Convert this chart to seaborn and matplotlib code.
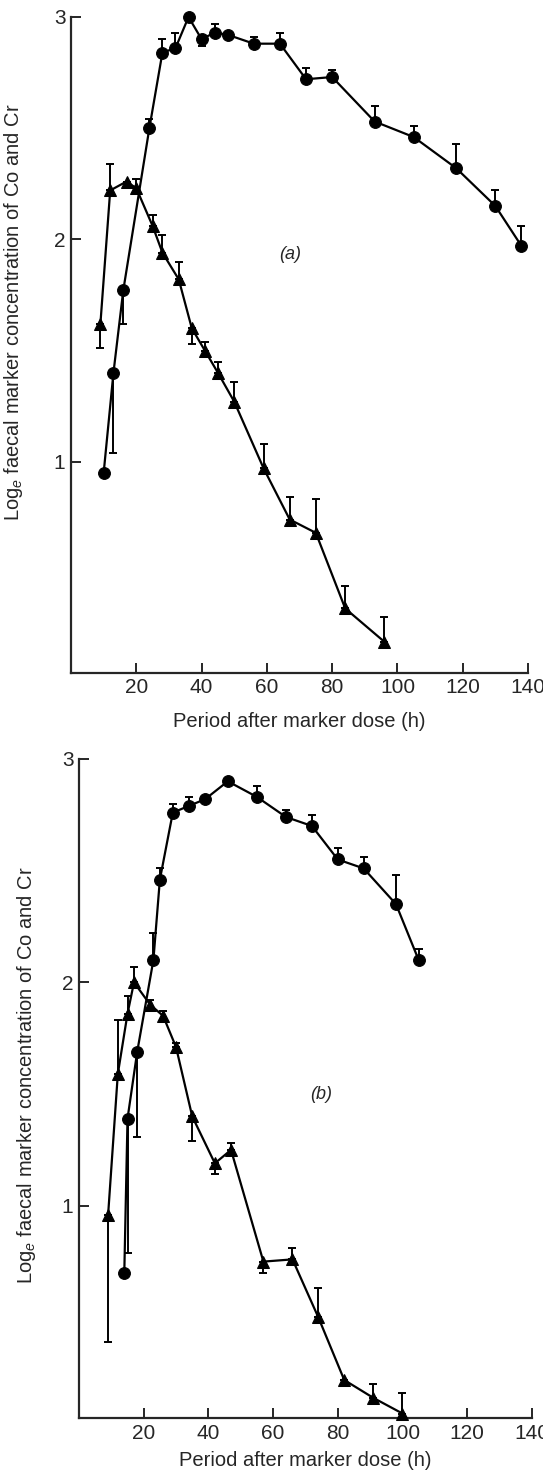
import matplotlib
matplotlib.use('Agg')
import matplotlib.pyplot as plt
import seaborn as sns
import pandas as pd

# panel (a) - circles
a_circ_x = [10, 13, 16, 24, 28, 32, 36, 40, 44, 48, 56, 64, 72, 80, 93, 105, 118, 130, 138]
a_circ_y = [0.95, 1.40, 1.77, 2.50, 2.84, 2.86, 3.00, 2.90, 2.93, 2.92, 2.88, 2.88, 2.72, 2.73, 2.53, 2.46, 2.32, 2.15, 1.97]
a_circ_lo = [0, 0.36, 0.15, 0, 0, 0, 0, 0.03, 0, 0, 0, 0, 0, 0, 0, 0, 0, 0, 0]
a_circ_hi = [0, 0, 0, 0.04, 0.06, 0.07, 0, 0, 0.04, 0, 0.03, 0.05, 0.05, 0.03, 0.07, 0.05, 0.11, 0.07, 0.09]

# panel (a) - triangles
a_tri_x = [9, 12, 17, 20, 25, 28, 33, 37, 41, 45, 50, 59, 67, 75, 84, 96]
a_tri_y = [1.62, 2.22, 2.26, 2.23, 2.06, 1.94, 1.82, 1.60, 1.50, 1.40, 1.27, 0.97, 0.74, 0.68, 0.34, 0.19]
a_tri_lo = [0.11, 0, 0, 0, 0, 0, 0, 0.07, 0, 0, 0, 0, 0, 0, 0, 0]
a_tri_hi = [0, 0.12, 0, 0.04, 0.05, 0.08, 0.08, 0, 0.04, 0.05, 0.09, 0.11, 0.10, 0.15, 0.10, 0.11]

# panel (b) - circles
b_circ_x = [14, 15, 18, 23, 25, 29, 34, 39, 46, 55, 64, 72, 80, 88, 98, 105]
b_circ_y = [0.70, 1.39, 1.69, 2.10, 2.46, 2.76, 2.79, 2.82, 2.90, 2.83, 2.74, 2.70, 2.55, 2.51, 2.35, 2.10]
b_circ_lo = [0.02, 0.60, 0.38, 0, 0, 0, 0, 0, 0, 0, 0, 0, 0, 0, 0, 0]
b_circ_hi = [0, 0, 0, 0.12, 0.05, 0.04, 0.04, 0, 0, 0.05, 0.03, 0.05, 0.05, 0.05, 0.13, 0.05]

# panel (b) - triangles
b_tri_x = [9, 12, 15, 17, 22, 26, 30, 35, 42, 47, 57, 66, 74, 82, 91, 100]
b_tri_y = [0.96, 1.59, 1.86, 2.00, 1.90, 1.85, 1.71, 1.40, 1.19, 1.25, 0.75, 0.76, 0.50, 0.22, 0.14, 0.07]
b_tri_lo = [0.57, 0, 0, 0, 0.02, 0.02, 0, 0.11, 0.05, 0, 0.05, 0, 0, 0, 0, 0]
b_tri_hi = [0, 0.24, 0.08, 0.07, 0.02, 0.02, 0.02, 0, 0, 0.03, 0, 0.05, 0.13, 0, 0.06, 0.09]

x_ticks = [20, 40, 60, 80, 100, 120, 140]
y_ticks = [1, 2, 3]
x_label = 'Period after marker dose (h)'
y_label = r'Log$_e$ faecal marker concentration of Co and Cr'

sns.set_style('ticks')
plt.rcParams['font.family'] = ['Liberation Sans', 'DejaVu Sans']
plt.rcParams['mathtext.fontset'] = 'custom'
plt.rcParams['mathtext.it'] = 'Liberation Sans:italic'
plt.rcParams['mathtext.rm'] = 'Liberation Sans'

fig = plt.figure(figsize=(5.43, 14.78), dpi=100)
ax_a = fig.add_axes([0.1308, 0.5447, 0.8416, 0.4438])
ax_b = fig.add_axes([0.1455, 0.0406, 0.834, 0.4459])


def draw_series(ax, xs, ys, lo, hi, marker, size):
    df = pd.DataFrame({'x': xs, 'y': ys})
    ax.errorbar(xs, ys, yerr=[lo, hi], fmt='none', ecolor='black',
                elinewidth=1.4, capsize=2.8, capthick=1.4, zorder=2)
    sns.lineplot(data=df, x='x', y='y', ax=ax, color='black', linewidth=1.6,
                 marker=marker, markersize=size, markeredgecolor='black',
                 markerfacecolor='black', sort=False, estimator=None,
                 zorder=3, clip_on=False)


def style_axes(ax, ylab_xy, xlab_y):
    ax.set_xlim(0, 140)
    ax.set_ylim(0.05, 3)
    ax.set_xticks(x_ticks)
    ax.set_yticks(y_ticks)
    ax.tick_params(direction='in', length=7, width=1.4, labelsize=15, pad=4)
    for s in ['left', 'bottom']:
        ax.spines[s].set_linewidth(1.6)
    sns.despine(ax=ax)
    ax.set_xlabel(x_label, fontsize=14.5)
    ax.set_ylabel(y_label, fontsize=14.5)
    ax.yaxis.set_label_coords(*ylab_xy)
    ax.xaxis.set_label_coords(0.5, xlab_y)


draw_series(ax_a, a_circ_x, a_circ_y, a_circ_lo, a_circ_hi, 'o', 8.5)
draw_series(ax_a, a_tri_x, a_tri_y, a_tri_lo, a_tri_hi, '^', 8)
style_axes(ax_a, (-0.10, 0.55), -0.06)
ax_a.text(67, 1.93, '(a)', fontsize=13, style='italic', ha='center', va='center')

draw_series(ax_b, b_circ_x, b_circ_y, b_circ_lo, b_circ_hi, 'o', 8.5)
draw_series(ax_b, b_tri_x, b_tri_y, b_tri_lo, b_tri_hi, '^', 8)
style_axes(ax_b, (-0.09, 0.52), -0.05)
ax_b.text(75, 1.50, '(b)', fontsize=13, style='italic', ha='center', va='center')

fig.savefig('out.png', dpi=100)
